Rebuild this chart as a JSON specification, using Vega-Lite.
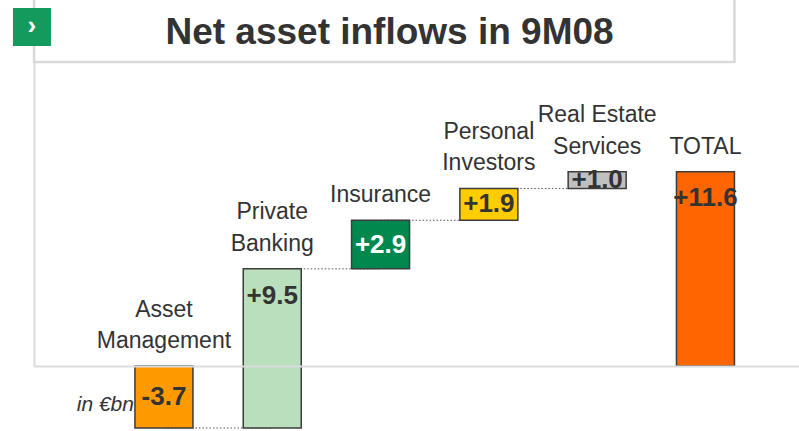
{
  "$schema": "https://vega.github.io/schema/vega-lite/v6.json",
  "width": 765,
  "height": 366,
  "autosize": "none",
  "padding": {"left": 34, "top": 0, "right": 0, "bottom": 65},
  "background": "white",
  "config": {"view": {"stroke": null}, "font": "Liberation Sans"},
  "encoding": {
    "x": {
      "field": "cat", "type": "nominal", "sort": null,
      "scale": {
        "domain": ["Asset Management", "Private Banking", "Insurance", "Personal Investors", "Real Estate Services", "TOTAL"],
        "paddingInner": 0.4645, "paddingOuter": 0.764, "align": 0.61
      },
      "axis": {"orient": "bottom", "title": null, "labels": false, "ticks": false, "domain": true, "domainColor": "#dcdcdc", "domainWidth": 2, "zindex": 1}
    },
    "y": {
      "type": "quantitative",
      "scale": {"domain": [0, 21.85], "nice": false, "zero": false},
      "axis": {"orient": "left", "title": null, "labels": false, "ticks": false, "grid": false, "domain": true, "domainColor": "#dcdcdc", "domainWidth": 2, "zindex": 0}
    }
  },
  "layer": [
    {
      "data": {"values": [{"name": "box"}]},
      "mark": {"type": "rect", "fill": "white", "stroke": "#d9d9d9", "strokeWidth": 2.5},
      "encoding": {
        "x": {"datum": "Asset Management", "bandPosition": -1.74},
        "x2": {"datum": "TOTAL", "bandPosition": 1},
        "y": {"datum": 18.15},
        "y2": {"datum": 23}
      }
    },
    {
      "data": {"values": [{"title": "Net asset inflows in 9M08"}]},
      "mark": {"type": "text", "fontSize": 37, "fontWeight": "bold", "color": "#333333", "baseline": "alphabetic", "align": "center", "dx": 9},
      "encoding": {
        "x": {"datum": "Insurance"},
        "y": {"datum": 19.22},
        "text": {"field": "title"}
      }
    },
    {
      "data": {"values": [
        {"cat": "Asset Management", "l1": "Asset", "l2": "Management", "value": -3.7, "total": false},
        {"cat": "Private Banking", "l1": "Private", "l2": "Banking", "value": 9.5, "total": false},
        {"cat": "Insurance", "l1": "", "l2": "Insurance", "value": 2.9, "total": false},
        {"cat": "Personal Investors", "l1": "Personal", "l2": "Investors", "value": 1.9, "total": false},
        {"cat": "Real Estate Services", "l1": "Real Estate", "l2": "Services", "value": 1.0, "total": false},
        {"cat": "TOTAL", "l1": "", "l2": "TOTAL", "value": 11.6, "total": true}
      ]},
      "transform": [
        {"window": [{"op": "sum", "field": "value", "as": "cum"}, {"op": "lead", "field": "cat", "as": "next"}]},
        {"calculate": "datum.total ? 0 : datum.cum - datum.value", "as": "start"},
        {"calculate": "datum.total ? datum.value : datum.cum", "as": "end"},
        {"calculate": "max(datum.start, datum.end)", "as": "top"},
        {"calculate": "abs(datum.value) > 5 ? datum.top - 1.6 : (datum.start + datum.end) / 2", "as": "ly"},
        {"calculate": "(datum.value > 0 ? '+' : '-') + format(abs(datum.value), '.1f')", "as": "vtext"}
      ],
      "layer": [
        {
          "transform": [{"filter": "datum.next != null && datum.next !== 'TOTAL'"}],
          "mark": {"type": "rule", "color": "#555555", "strokeWidth": 1, "strokeDash": [1.5, 2]},
          "encoding": {
            "x2": {"field": "next"},
            "y": {"field": "end", "type": "quantitative"}
          }
        },
        {
          "mark": {"type": "bar", "stroke": "#3c3c3c", "strokeWidth": 1.5},
          "encoding": {
            "y": {"field": "start", "type": "quantitative"},
            "y2": {"field": "end"},
            "color": {
              "field": "cat", "type": "nominal", "legend": null,
              "scale": {
                "domain": ["Asset Management", "Private Banking", "Insurance", "Personal Investors", "Real Estate Services", "TOTAL"],
                "range": ["#FF9900", "#B9DFBC", "#00884F", "#FFCC00", "#C0C0C0", "#FF6600"]
              }
            }
          }
        },
        {
          "mark": {"type": "text", "fontSize": 23, "baseline": "bottom", "align": "center", "dy": -13, "color": "#333333"},
          "encoding": {
            "y": {"field": "top", "type": "quantitative"},
            "text": {"field": "l2"}
          }
        },
        {
          "mark": {"type": "text", "fontSize": 23, "baseline": "bottom", "align": "center", "dy": -44.5, "color": "#333333"},
          "encoding": {
            "y": {"field": "top", "type": "quantitative"},
            "text": {"field": "l1"}
          }
        },
        {
          "mark": {"type": "text", "fontSize": 26, "fontWeight": "bold", "baseline": "middle", "align": "center"},
          "encoding": {
            "y": {"field": "ly", "type": "quantitative"},
            "text": {"field": "vtext"},
            "color": {"condition": {"test": "datum.cat === 'Insurance'", "value": "#ffffff"}, "value": "#333333"}
          }
        }
      ]
    },
    {
      "data": {"values": [{"note": "in €bn"}]},
      "mark": {"type": "text", "fontSize": 21, "fontStyle": "italic", "color": "#333333", "align": "right", "baseline": "middle", "dx": -30},
      "encoding": {
        "x": {"datum": "Asset Management"},
        "y": {"datum": -2.3},
        "text": {"field": "note"}
      }
    },
    {
      "data": {"values": [{"icon": "›"}]},
      "layer": [
        {
          "mark": {"type": "point", "shape": "square", "size": 1444, "filled": true, "color": "#159A5E", "opacity": 1, "xOffset": -132},
          "encoding": {"x": {"datum": "Asset Management"}, "y": {"datum": 20.24}}
        },
        {
          "mark": {"type": "text", "fontSize": 26, "fontWeight": "bold", "color": "white", "align": "center", "baseline": "middle", "dx": -132, "dy": -1},
          "encoding": {"x": {"datum": "Asset Management"}, "y": {"datum": 20.24}, "text": {"field": "icon"}}
        }
      ]
    }
  ]
}
